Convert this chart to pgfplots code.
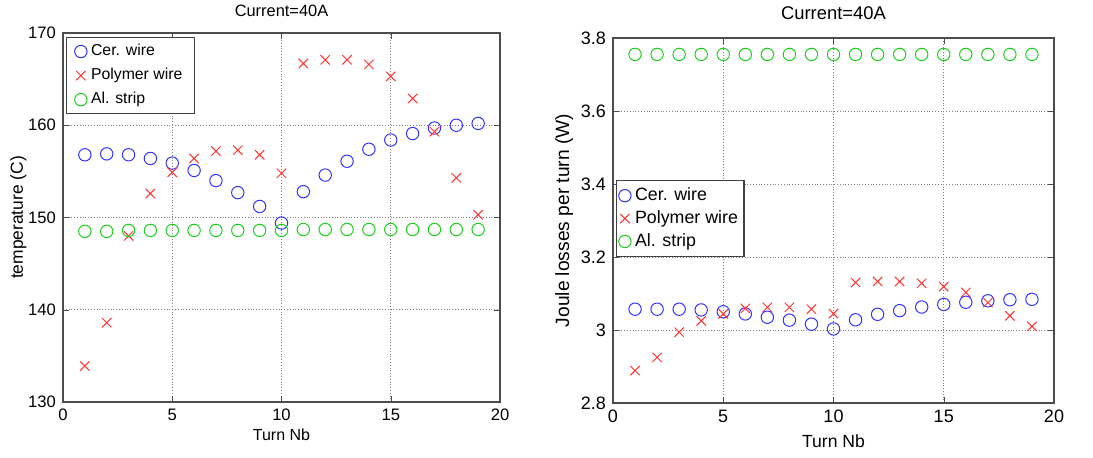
\documentclass[border=0pt]{standalone}
\usepackage{fontspec}
\setmainfont{Liberation Sans}
\usepackage{pgfplots}
\pgfplotsset{compat=1.18}
\usepackage{pgfplotstable}

% turn, ceramic wire, polymer wire, Al strip
\pgfplotstableread{
n  cer    poly   al
1  156.8  133.9  148.5
2  156.9  138.6  148.5
3  156.8  148.0  148.6
4  156.4  152.6  148.6
5  155.9  154.9  148.6
6  155.1  156.4  148.6
7  154.0  157.2  148.6
8  152.7  157.3  148.6
9  151.2  156.8  148.6
10 149.4  154.8  148.6
11 152.8  166.7  148.7
12 154.6  167.1  148.7
13 156.1  167.1  148.7
14 157.4  166.6  148.7
15 158.4  165.3  148.7
16 159.1  162.9  148.7
17 159.7  159.3  148.7
18 160.0  154.3  148.7
19 160.2  150.3  148.7
}\temptab

\pgfplotstableread{
n  cer    poly   al
1  3.057  2.889  3.755
2  3.057  2.925  3.755
3  3.057  2.994  3.755
4  3.055  3.025  3.755
5  3.050  3.044  3.755
6  3.044  3.059  3.755
7  3.035  3.062  3.755
8  3.027  3.062  3.755
9  3.016  3.057  3.755
10 3.003  3.045  3.755
11 3.028  3.130  3.755
12 3.043  3.133  3.755
13 3.053  3.133  3.755
14 3.063  3.128  3.755
15 3.070  3.119  3.755
16 3.076  3.103  3.755
17 3.080  3.075  3.755
18 3.083  3.039  3.755
19 3.084  3.010  3.755
}\losstab

\pgfplotsset{
  mlab/.style={
    scale only axis,
    xmin=0, xmax=20, xtick={0,5,...,20},
    grid=major,
    major grid style={densely dotted, black!50, line width=0.45pt},
    axis line style={black!70, line width=0.6pt},
    tick style={black!70},
    tick align=inside,
    major tick length=3pt,
    /pgf/number format/assume math mode=true,
    title={Current=40A},
    xlabel={Turn Nb},
    legend style={draw=black!75, line width=0.6pt, inner sep=1.5pt},
    legend cell align=left,
  },
  cer/.style={only marks, mark=o, mark size=3.1pt, blue!80!white, line width=0.5pt},
  poly/.style={only marks, mark=x, mark size=3.3pt, red!80!white, line width=0.5pt},
  al/.style={only marks, mark=o, mark size=3.1pt, green!80!black!90!white, line width=0.5pt},
}

\begin{document}
\begin{tikzpicture}
\useasboundingbox (0,0) rectangle (546.5pt,228.5pt);

\begin{axis}[mlab,
  at={(31.5pt,27.5pt)}, anchor=south west,
  width=218.5pt, height=184.5pt,
  ymin=130, ymax=170, ytick={130,140,...,170},
  tick label style={font=\fontsize{8.3}{9}\selectfont},
  title style={font=\fontsize{8.2}{9}\selectfont, yshift=-1.5pt},
  xlabel style={font=\fontsize{8}{9}\selectfont, yshift=3pt},
  ylabel style={font=\fontsize{8.7}{9}\selectfont, yshift=-6pt},
  ylabel={temperature (C)},
  legend style={at={(0.007,0.99)}, anchor=north west,
    font=\fontsize{7.9}{8.5}\selectfont, row sep=0.8pt, inner xsep=4pt},
]
\addplot[cer] table[x=n, y=cer] {\temptab};
\addplot[poly] table[x=n, y=poly] {\temptab};
\addplot[al] table[x=n, y=al] {\temptab};
\legend{Cer. wire, Polymer wire\hspace{3pt}, Al. strip}
\end{axis}

\begin{axis}[mlab,
  at={(306.5pt,27pt)}, anchor=south west,
  width=220.5pt, height=182.5pt,
  ymin=2.8, ymax=3.8, ytick={2.8,3,3.2,3.4,3.6,3.8},
  tick label style={font=\fontsize{9}{10}\selectfont},
  title style={font=\fontsize{9.2}{10}\selectfont, yshift=-0.5pt},
  xlabel style={font=\fontsize{8.8}{10}\selectfont, yshift=1pt},
  ylabel style={font=\fontsize{9.6}{10}\selectfont, yshift=-3pt},
  ylabel={Joule losses per turn (W)},
  legend style={at={(0.007,0.40)}, anchor=south west,
    font=\fontsize{8.9}{9}\selectfont, row sep=-0.5pt, inner xsep=1pt},
]
\addplot[cer] table[x=n, y=cer] {\losstab};
\addplot[poly] table[x=n, y=poly] {\losstab};
\addplot[al] table[x=n, y=al] {\losstab};
\legend{Cer. wire, Polymer wire\hspace{4pt}, Al. strip}
\end{axis}
\end{tikzpicture}
\end{document}
